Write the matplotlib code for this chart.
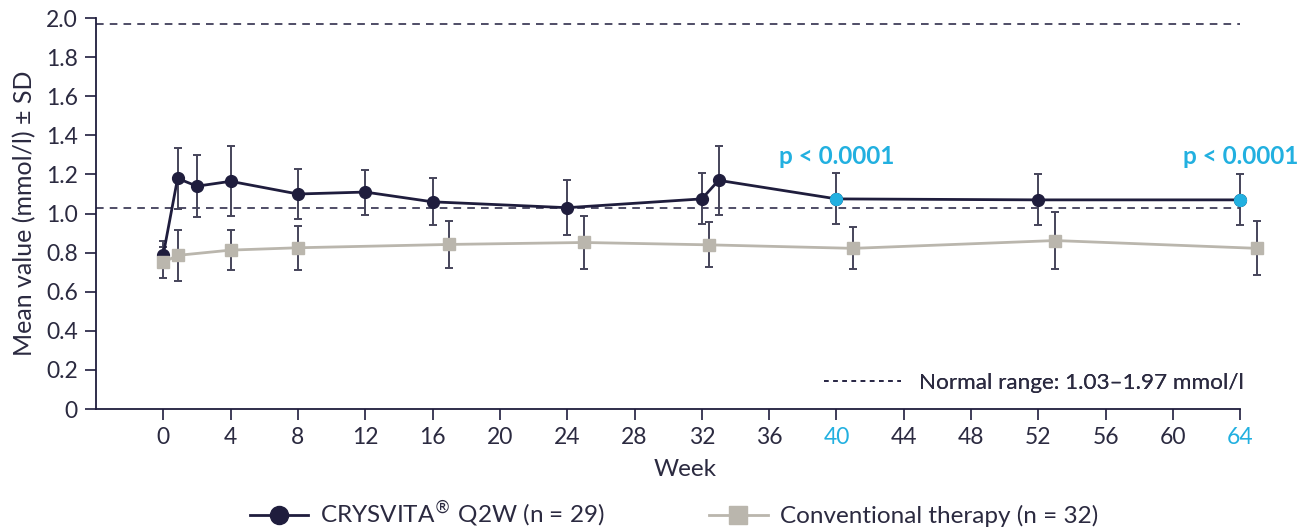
import matplotlib
matplotlib.use("Agg")
import matplotlib.pyplot as plt
from matplotlib.lines import Line2D
import numpy as np

plt.rcParams['font.family'] = ['Lato', 'DejaVu Sans']
plt.rcParams['mathtext.fontset'] = 'dejavusans'

# CRYSVITA Q2W (n = 29)
crys_weeks = [0, 0.85, 2, 4, 8, 12, 16, 24, 32, 33, 40, 52, 64]
crys_mean = [0.79, 1.18, 1.14, 1.165, 1.10, 1.11, 1.06, 1.03, 1.075, 1.17, 1.075, 1.07, 1.07]
crys_sd = [0.07, 0.155, 0.16, 0.18, 0.13, 0.115, 0.12, 0.14, 0.13, 0.175, 0.13, 0.13, 0.13]

# conventional therapy (n = 32)
conv_weeks = [0, 0.85, 4, 8, 17, 25, 32.4, 41, 53, 65]
conv_mean = [0.75, 0.786, 0.813, 0.825, 0.842, 0.852, 0.840, 0.822, 0.862, 0.822]
conv_sd = [0.08, 0.13, 0.103, 0.113, 0.118, 0.138, 0.115, 0.108, 0.148, 0.138]

sig_weeks = [40, 64]
sig_label = "p < 0.0001"
normal_range = [1.03, 1.97]
xticks = list(range(0, 65, 4))
yticks = [0, 0.2, 0.4, 0.6, 0.8, 1.0, 1.2, 1.4, 1.6, 1.8, 2.0]
ytick_labels = ["0", "0.2", "0.4", "0.6", "0.8", "1.0", "1.2", "1.4", "1.6", "1.8", "2.0"]

navy = "#1f1d3d"
grey = "#bab6ad"
cyan = "#22b0e0"
errc = "#45445a"
txt = "#2b2a40"

fig = plt.figure(figsize=(13.11, 5.29), dpi=100)
ax = fig.add_axes([0.0732, 0.2268, 0.8986, 0.739])

# normal range
ax.hlines(normal_range, -4, 64, colors=navy, linestyles=(0, (5, 4)), linewidth=1.1, zorder=1)

ax.errorbar(crys_weeks, crys_mean, yerr=crys_sd, fmt='none', ecolor=errc,
            elinewidth=1.4, capsize=3, capthick=1.4, zorder=2)
ax.errorbar(conv_weeks, conv_mean, yerr=conv_sd, fmt='none', ecolor=errc,
            elinewidth=1.4, capsize=3, capthick=1.4, zorder=2)

ax.plot(crys_weeks, crys_mean, color=navy, lw=2, marker='o', ms=8.5, zorder=3)
ax.plot(conv_weeks, conv_mean, color=grey, lw=2, marker='s', ms=8, zorder=4)

cw = np.array(crys_weeks)
cm = np.array(crys_mean)
hl = np.isin(cw, sig_weeks)
ax.plot(cw[hl], cm[hl], ls='none', marker='o', ms=8.5, color=cyan, zorder=5)
for w in sig_weeks:
    ax.text(w, 1.29, sig_label, color=cyan, fontsize=17.5, fontweight='bold',
            ha='center', va='center')

ax.set_xlim(-4, 66)
ax.set_ylim(0, 2.0)
ax.spines['top'].set_visible(False)
ax.spines['right'].set_visible(False)
ax.spines['bottom'].set_bounds(-4, 64)
for s in ['left', 'bottom']:
    ax.spines[s].set_color(navy)
    ax.spines[s].set_linewidth(1.3)

ax.set_xticks(xticks)
ax.set_xticklabels([str(t) for t in xticks])
ax.set_yticks(yticks)
ax.set_yticklabels(ytick_labels)
ax.tick_params(axis='both', direction='out', length=8, width=1.2, color=navy,
               labelsize=16.5, labelcolor=txt, pad=5)
for lab, t in zip(ax.get_xticklabels(), xticks):
    if t in sig_weeks:
        lab.set_color(cyan)

ax.set_xlabel("Week", fontsize=17.5, color=txt, labelpad=8)
ax.set_ylabel("Mean value (mmol/l) \u00b1 SD", fontsize=18, color=txt, labelpad=7)

nr_handle = Line2D([], [], color=navy, ls=(0, (3, 3)), lw=1.1)
leg1 = ax.legend([nr_handle], ["Normal range: 1.03\u20131.97 mmol/l"], loc='center right',
                 bbox_to_anchor=(69.4 / 70, 0.066), frameon=False, fontsize=16.2,
                 handlelength=3.4, handletextpad=0.8, labelcolor=txt)
ax.add_artist(leg1)

h1 = Line2D([], [], color=navy, lw=2, marker='o', ms=13)
h2 = Line2D([], [], color=grey, lw=2, marker='s', ms=13)
fig.legend([h1, h2], ["CRYSVITA$^{\u00ae}$ Q2W (n = 29)", "Conventional therapy (n = 32)"],
           loc='center', bbox_to_anchor=(0.514, 0.028), ncol=2, frameon=False,
           fontsize=17.5, handlelength=2.4, handletextpad=0.5, columnspacing=4.3,
           labelcolor=txt)

fig.savefig("out.png", dpi=100)
